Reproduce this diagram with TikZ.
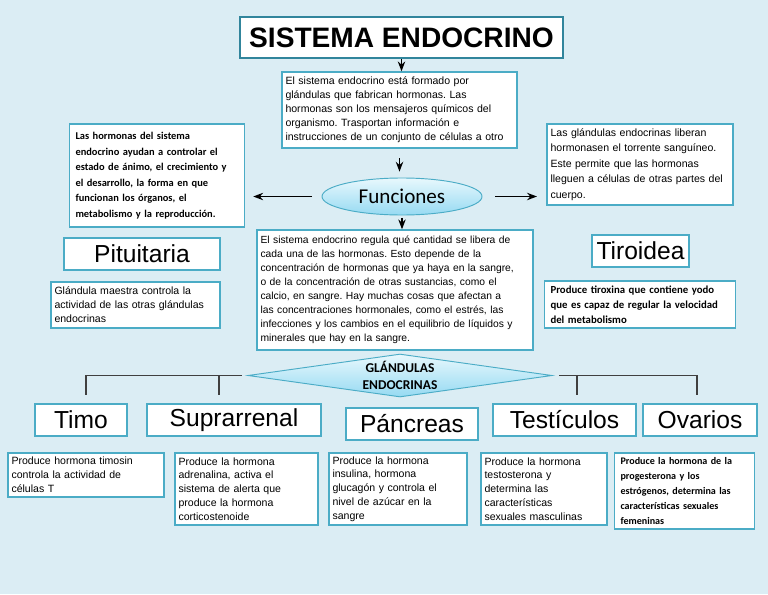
\documentclass[tikz,border=0pt]{standalone}
\usepackage{fontspec}
\setmainfont{Liberation Sans}
\newfontfamily\calibri{Carlito}
\usepackage{xcolor}
\usepackage{tikz}
\usetikzlibrary{
  shapes.geometric,
  arrows.meta,
  calc
}
\definecolor{bgblue}{RGB}{219,237,244}
\definecolor{edgeteal}{RGB}{75,172,198}
\definecolor{titleedge}{RGB}{49,133,156}
\definecolor{skytop}{RGB}{232,248,253}
\definecolor{skybottom}{RGB}{150,218,242}
\frenchspacing

\begin{document}
\begin{tikzpicture}[
    x=0.03cm, y=-0.03cm,
    >=Stealth,
    box/.style={draw=edgeteal, line width=1.2pt, fill=white, inner xsep=3pt, inner ysep=1pt, align=left, font=\fontsize{9}{12}\selectfont},
    calbox/.style={box, font=\calibri\bfseries\fontsize{9.2}{13}\selectfont},
    namebox/.style={draw=edgeteal, line width=1.2pt, fill=white, inner sep=0pt, font=\fontsize{21}{24}\selectfont},
    titlebox/.style={draw=titleedge, line width=2.2pt, fill=white, inner sep=0pt, font=\fontsize{24}{28}\selectfont\bfseries},
    bubble/.style={draw=edgeteal, line width=0.8pt, top color=skytop, bottom color=skybottom, inner sep=0pt},
    wh/.code 2 args={%
      \pgfmathsetlengthmacro\boxtw{#1*0.03cm-6pt}%
      \pgfmathsetlengthmacro\boxmh{#2*0.03cm}%
      \pgfkeysalso{text width=\boxtw, minimum height=\boxmh}},
    sz/.style 2 args={minimum width=#1*0.03cm, minimum height=#2*0.03cm},
    arr/.style={->, line width=1.2pt, black},
    bracket/.style={draw=black!75, line width=1.2pt},
]

\fill[bgblue] (0,0) rectangle (768,594);
\useasboundingbox (0,0) rectangle (768,594);

% === Title and introduction ===
\node[titlebox, sz={323}{41}] (title) at (401.5,37.5) {SISTEMA ENDOCRINO};
\node[box, wh={235}{76}] (intro) at (399.5,110) {El sistema endocrino está formado por\\glándulas que fabrican hormonas. Las\\hormonas son los mensajeros químicos del\\organismo. Trasportan información e\\instrucciones de un conjunto de células a otro};

% === Funciones ===
\node[bubble, ellipse, sz={160}{37}, font=\calibri\fontsize{18}{20}\selectfont] (func) at (402,196.5) {Funciones};
\node[calbox, font=\calibri\bfseries\fontsize{8.9}{13.2}\selectfont, inner xsep=5pt, wh={170}{103}] (roles) at (157,175.5) {Las hormonas del sistema\\endocrino ayudan a controlar el\\estado de ánimo, el crecimiento y\\el desarrollo, la forma en que\\funcionan los órganos, el\\metabolismo y la reproducción.};
\node[box, font=\fontsize{9}{13.2}\selectfont, wh={186}{81}] (blood) at (640,164.5) {Las glándulas endocrinas liberan\\hormonasen el torrente sanguíneo.\\Este permite que las hormonas\\lleguen a células de otras partes del\\cuerpo.};
\node[box, font=\fontsize{8.8}{12}\selectfont, wh={276}{120}] (regul) at (395,290) {El sistema endocrino regula qué cantidad se libera de\\cada una de las hormonas. Esto depende de la\\concentración de hormonas que ya haya en la sangre,\\o de la concentración de otras sustancias, como el\\calcio, en sangre. Hay muchas cosas que afectan a\\las concentraciones hormonales, como el estrés, las\\infecciones y los cambios en el equilibrio de líquidos y\\minerales que hay en la sangre.};

\draw[arr] (title.south) -- (title.south |- intro.north);
\draw[arr, shorten <=8pt, shorten >=5pt] (intro.south) -- (intro.south |- func.north);
\draw[arr, shorten <=8pt, shorten >=7pt] (func.west) -- (func.west -| roles.east);
\draw[arr, shorten <=11pt, shorten >=8pt] (func.east) -- (func.east -| blood.west);
\draw[arr, shorten <=2pt] (func.south) -- (func.south |- regul.north);

% === Pituitaria y Tiroidea ===
\node[namebox, sz={156}{32}] (pit) at (142,254) {Pituitaria};
\node[box, wh={169}{46}] (pitdesc) at (135.5,305) {Glándula maestra controla la\\actividad de las otras glándulas\\endocrinas};
\node[namebox, sz={97}{32}] (tir) at (640.5,251) {Tiroidea};
\node[calbox, inner xsep=5pt, wh={186}{47}] (tirdesc) at (640,304.5) {Produce tiroxina que contiene yodo\\que es capaz de regular la velocidad\\del metabolismo};

% === Glandulas endocrinas ===
\node[bubble, diamond, aspect=7, sz={304}{43}, align=center, font=\calibri\bfseries\fontsize{11.5}{14}\selectfont] (glands) at (400,375.5) {GLÁNDULAS\\ENDOCRINAS};

\node[namebox, sz={92}{32}] (timo) at (81,420) {Timo};
\node[namebox, sz={174}{32}] (supra) at (234,420) {Suprarrenal};
\node[namebox, sz={132}{32}] (pan) at (412,424) {Páncreas};
\node[namebox, sz={143}{32}] (test) at (564.5,420) {Testículos};
\node[namebox, sz={114}{32}] (ova) at (700,420) {Ovarios};

\coordinate (lhub) at ([xshift=-0.18cm]glands.west);
\coordinate (rhub) at ([xshift=0.21cm]glands.east);
\coordinate (timotop) at ([xshift=0.15cm]timo.north);
\coordinate (supratop) at ([xshift=-0.45cm]supra.north);
\coordinate (testtop) at ([xshift=0.375cm]test.north);
\coordinate (ovatop) at ([xshift=-0.09cm]ova.north);

\draw[bracket, shorten >=0.24cm] (lhub) -| (timotop);
\draw[bracket, shorten >=0.24cm] (supratop |- lhub) -- (supratop);
\draw[bracket, shorten >=0.24cm] (rhub) -| (ovatop);
\draw[bracket, shorten >=0.24cm] (testtop |- rhub) -- (testtop);

% === Descripciones ===
\node[box, wh={156}{44}] (timodesc) at (86,475) {Produce hormona timosin\\controla la actividad de\\células T};
\node[box, font=\fontsize{9}{11.8}\selectfont, wh={143}{72}] (supradesc) at (246.5,489) {Produce la hormona\\adrenalina, activa el\\sistema de alerta que\\produce la hormona\\corticostenoide};
\node[box, font=\fontsize{9}{11.8}\selectfont, wh={138}{72}] (pandesc) at (398,489) {Produce la hormona\\insulina, hormona\\glucagón y controla el\\nivel de azúcar en la\\sangre};
\node[box, font=\fontsize{9}{11.8}\selectfont, wh={126}{72}] (testdesc) at (544,489) {Produce la hormona\\testosterona y\\determina las\\características\\sexuales masculinas};
\node[calbox, font=\calibri\bfseries\fontsize{8.6}{13}\selectfont, inner xsep=5pt, wh={135}{76}] (ovadesc) at (684.5,491) {Produce la hormona de la\\progesterona y los\\estrógenos, determina las\\características sexuales\\femeninas};

\end{tikzpicture}
\end{document}
